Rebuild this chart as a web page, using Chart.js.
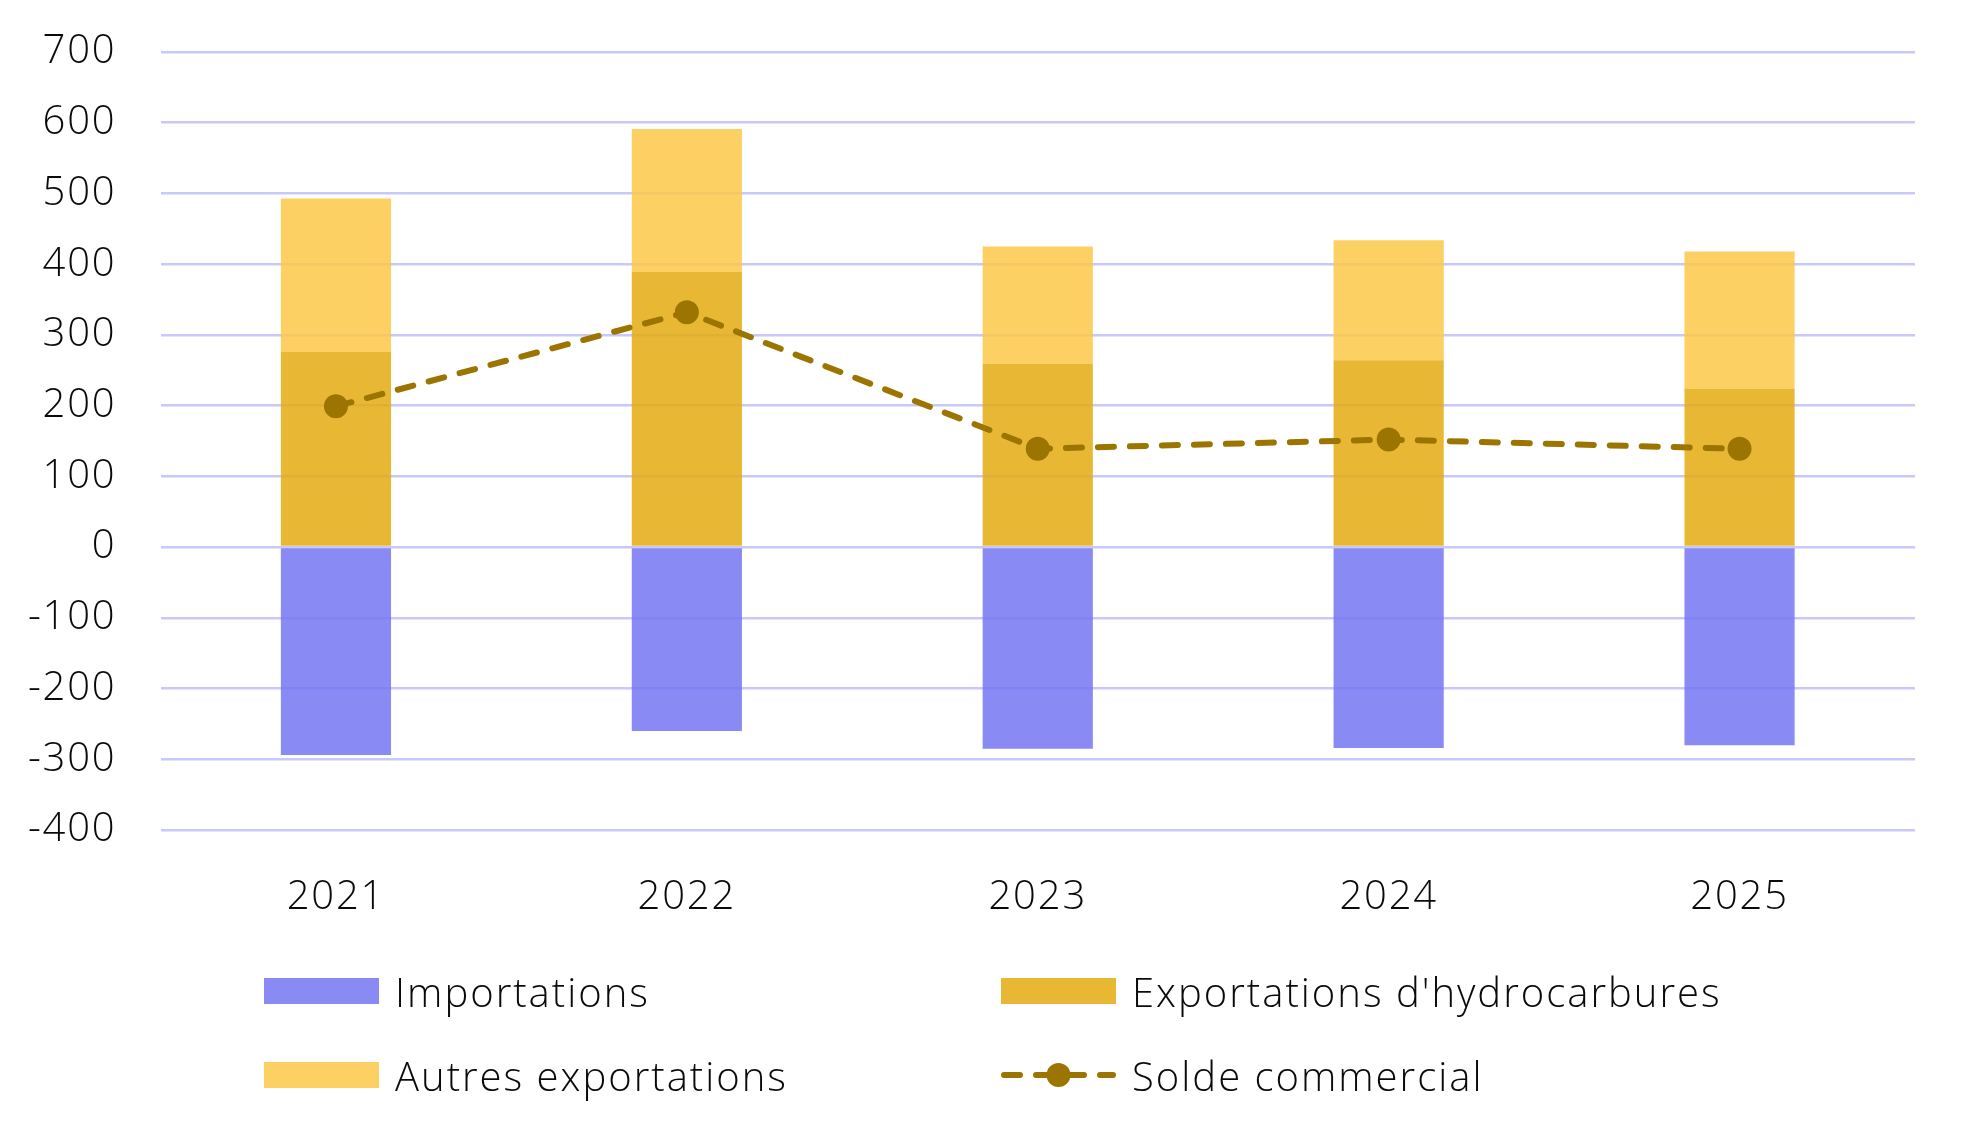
<!DOCTYPE html>
<html lang="fr">
<head>
<meta charset="utf-8">
<script src="https://cdn.jsdelivr.net/npm/chart.js@4/dist/chart.umd.min.js"></script>
<style>
    html, body { margin: 0; padding: 0; background: #ffffff; }
    #wrap { position: relative; width: 1966px; height: 1138px; }
    #chart { position: absolute; left: 0; top: 0; }
    #legend {
        position: absolute;
        left: 264px;
        top: 965px;
        display: grid;
        grid-template-columns: 737px auto;
        row-gap: 32px;
        font-family: "Open Sans", sans-serif;
        font-weight: 300;
        font-size: 40px;
        letter-spacing: 2px;
        color: #0a0a0a;
    }
    .item { display: flex; align-items: center; height: 52px; }
    .swatch { width: 115px; height: 26px; margin-right: 16px; flex: none; }
</style>
</head>
<body>
<div id="wrap">
    <canvas id="chart" width="1966" height="1138"></canvas>
    <div id="legend"></div>
</div>
<script>
// Data
const years = ['2021', '2022', '2023', '2024', '2025'];
const importations = [-294, -260, -285, -284, -280];
const exportHydro = [276, 389, 259, 264, 224];
const autresExport = [217, 202, 166, 170, 194];
const soldeCommercial = [199, 332, 139, 152, 139];
const yTicks = [700, 600, 500, 400, 300, 200, 100, 0, -100, -200, -300, -400];

const colors = {
    importations: 'rgba(117, 117, 242, 0.85)',
    hydro: 'rgba(228, 172, 18, 0.85)',
    autres: 'rgba(252, 200, 70, 0.85)',
    solde: '#9c7400',
    grid: '#c8c8fa',
    text: '#0a0a0a'
};

const fontFamily = '"Open Sans", sans-serif';

// Slightly wider lettering, closer to the original typeface
const letterSpacingPlugin = {
    id: 'letterSpacing',
    beforeUpdate: (chart) => { chart.ctx.letterSpacing = '1.8px'; },
    beforeDraw: (chart) => { chart.ctx.letterSpacing = '1.8px'; }
};

const ctx = document.getElementById('chart').getContext('2d');

const chart = new Chart(ctx, {
    type: 'bar',
    data: {
        labels: years,
        datasets: [
            {
                label: 'Importations',
                data: importations,
                backgroundColor: colors.importations,
                stack: 'flux',
                order: 1
            },
            {
                label: "Exportations d'hydrocarbures",
                data: exportHydro,
                backgroundColor: colors.hydro,
                stack: 'flux',
                order: 1
            },
            {
                label: 'Autres exportations',
                data: autresExport,
                backgroundColor: colors.autres,
                stack: 'flux',
                order: 1
            },
            {
                type: 'line',
                label: 'Solde commercial',
                data: soldeCommercial,
                borderColor: colors.solde,
                backgroundColor: colors.solde,
                borderWidth: 6,
                borderDash: [16, 16],
                borderCapStyle: 'round',
                pointRadius: 12,
                pointHoverRadius: 12,
                pointBorderWidth: 0,
                tension: 0,
                stack: 'solde',
                order: 0
            }
        ]
    },
    options: {
        responsive: false,
        animation: false,
        layout: {
            padding: { left: 0, right: 51, top: 52, bottom: 218 }
        },
        datasets: {
            bar: {
                barPercentage: 0.314,
                categoryPercentage: 1
            }
        },
        scales: {
            x: {
                stacked: true,
                grid: { display: false, drawTicks: false },
                border: { display: false },
                ticks: {
                    color: colors.text,
                    padding: 44,
                    font: { family: fontFamily, size: 40, weight: 300 }
                },
                afterFit: (axis) => { axis.height = 90; }
            },
            y: {
                stacked: true,
                min: -400,
                max: 700,
                afterBuildTicks: (axis) => {
                    axis.ticks = yTicks.map(v => ({ value: v }));
                },
                grid: {
                    color: colors.grid,
                    lineWidth: 2.5,
                    drawTicks: false
                },
                border: { display: false },
                ticks: {
                    color: colors.text,
                    padding: 44,
                    font: { family: fontFamily, size: 40, weight: 300 }
                },
                afterFit: (axis) => {
                    axis.width = 160.5;
                    axis.paddingTop = 0;
                    axis.paddingBottom = 0;
                }
            }
        },
        plugins: {
            legend: { display: false },
            tooltip: { enabled: false }
        }
    },
    plugins: [letterSpacingPlugin]
});

// HTML legend in a two-column grid, built from the chart datasets
const legend = document.getElementById('legend');
chart.data.datasets.forEach(ds => {
    const item = document.createElement('div');
    item.className = 'item';
    let swatch;
    if (ds.type === 'line') {
        swatch = document.createElementNS('http://www.w3.org/2000/svg', 'svg');
        swatch.setAttribute('class', 'swatch');
        swatch.setAttribute('viewBox', '0 0 115 26');
        swatch.innerHTML =
            '<line x1="3" y1="13" x2="112" y2="13" stroke="' + ds.borderColor +
            '" stroke-width="6" stroke-linecap="round" stroke-dasharray="16 16"/>' +
            '<circle cx="57.5" cy="13" r="12" fill="' + ds.borderColor + '"/>';
    } else {
        swatch = document.createElement('div');
        swatch.className = 'swatch';
        swatch.style.background = ds.backgroundColor;
    }
    const text = document.createElement('span');
    text.textContent = ds.label;
    item.appendChild(swatch);
    item.appendChild(text);
    legend.appendChild(item);
});
</script>
</body>
</html>
